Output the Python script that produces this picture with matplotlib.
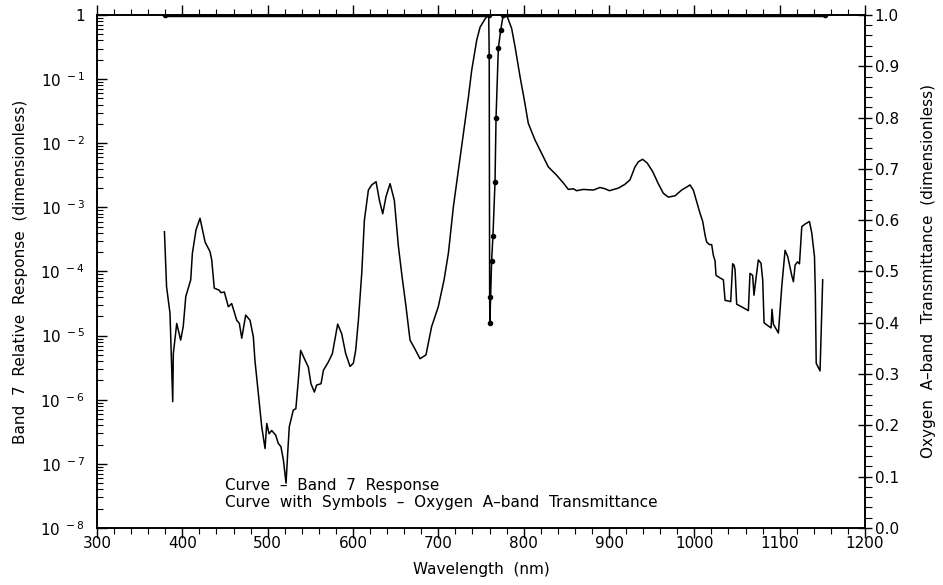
import numpy as np
import matplotlib
matplotlib.use("Agg")
import matplotlib.pyplot as plt
from matplotlib.ticker import FixedLocator, FixedFormatter, MultipleLocator

# ---- data -------------------------------------------------------------
band7_wl = [379, 381.5, 385.5, 388.7, 389.4, 393.4, 398, 401, 404, 409.8, 411.7, 416,
            420.7, 426.6, 432.4, 434.4, 437.4, 443, 445.3, 449.2, 453.9, 457.8, 463.7,
            466.8, 469.6, 474.2, 479.3, 483.2, 485, 489, 493, 496.9, 498.9, 501.6, 504.7,
            509.3, 512.4, 515.5, 518.4, 521.5, 523.4, 525.3, 530, 533, 535.9, 538.6,
            543.7, 547.6, 550.7, 554.7, 557.4, 562.5, 565.3, 571.1, 575.8, 582, 586.7,
            591.4, 596.5, 600.4, 603.1, 606.3, 610.2, 613.3, 618, 621.9, 627, 630.9,
            634.8, 638.7, 643.4, 648.4, 653.2, 657, 662.1, 666.8, 672.6, 678.5, 685.5,
            692.1, 699.9, 706.7, 711.8, 717.6, 723.5, 729.3, 735.2, 739.1, 745, 748.9,
            754.8, 758.7, 765, 772, 780, 785.9, 789.8, 795.7, 800.8, 805.4, 813.3, 821.1,
            828.9, 838.7, 846.5, 852.3, 858.2, 862, 869.9, 881.6, 889.4, 895.3, 900.4,
            910.9, 918.7, 924.6, 930.4, 934.3, 939.4, 944.8, 951.1, 957.7, 963.6, 969.5,
            977.3, 985.1, 990.2, 994.9, 998.8, 1002.7, 1006.6, 1009.8, 1012.5, 1014.4,
            1017.6, 1020.3, 1022.3, 1024.2, 1025.4, 1030.1, 1034, 1036, 1039.9, 1042.6,
            1044.9, 1046.5, 1047.7, 1049.6, 1056.6, 1063.3, 1065.2, 1068.3, 1069.9,
            1072.2, 1075, 1078.1, 1080.1, 1081.7, 1085.6, 1089.9, 1091, 1092.6, 1098.5,
            1102.4, 1106.3, 1109.5, 1114.1, 1116.1, 1118.1, 1120.8, 1123.2, 1125.9,
            1129.8, 1134.9, 1137.6, 1140.8, 1141.8, 1142.8, 1147.3, 1150.4]
band7_log10 = [-3.38, -4.24, -4.65, -6.03, -5.28, -4.81, -5.07, -4.86, -4.39, -4.13, -3.72,
               -3.35, -3.17, -3.54, -3.69, -3.82, -4.26, -4.29, -4.33, -4.32, -4.55, -4.50,
               -4.76, -4.81, -5.04, -4.68, -4.76, -5.02, -5.38, -5.90, -6.42, -6.76, -6.37,
               -6.53, -6.48, -6.55, -6.68, -6.73, -6.94, -7.30, -6.84, -6.42, -6.16, -6.14,
               -5.69, -5.23, -5.38, -5.49, -5.75, -5.88, -5.77, -5.75, -5.54, -5.41, -5.28,
               -4.82, -4.97, -5.28, -5.48, -5.43, -5.23, -4.76, -4.03, -3.20, -2.73, -2.65,
               -2.60, -2.89, -3.10, -2.83, -2.63, -2.89, -3.61, -4.03, -4.55, -5.07, -5.21,
               -5.36, -5.30, -4.86, -4.55, -4.13, -3.71, -2.99, -2.42, -1.85, -1.28, -0.86,
               -0.39, -0.19, -0.06, 0.0, 0.0, 0.0, 0.0, -0.21, -0.49, -0.96, -1.33, -1.69,
               -1.95, -2.16, -2.37, -2.50, -2.62, -2.72, -2.71, -2.74, -2.72, -2.73, -2.69,
               -2.71, -2.74, -2.70, -2.64, -2.57, -2.37, -2.29, -2.25, -2.31, -2.44, -2.63,
               -2.78, -2.84, -2.82, -2.73, -2.69, -2.65, -2.73, -2.91, -3.09, -3.22, -3.43,
               -3.54, -3.58, -3.58, -3.75, -3.83, -4.06, -4.10, -4.13, -4.45, -4.46, -4.47,
               -3.88, -3.90, -3.97, -4.51, -4.56, -4.61, -4.03, -4.06, -4.37, -4.11, -3.82,
               -3.87, -4.13, -4.80, -4.84, -4.88, -4.59, -4.82, -4.96, -4.24, -3.67, -3.77,
               -4.06, -4.16, -3.90, -3.85, -3.88, -3.30, -3.26, -3.22, -3.40, -3.77, -4.34,
               -5.43, -5.55, -4.13]

o2_wl = [380, 759.0, 759.6, 760.1, 760.4, 762.4, 764.0, 766.4, 767.6, 770.3, 773.0, 776.0, 1153]
o2_trans = [1.0, 1.0, 0.92, 0.45, 0.40, 0.52, 0.57, 0.675, 0.80, 0.935, 0.97, 1.0, 1.0]

left_tick_exps = [-8, -7, -6, -5, -4, -3, -2, -1, 0]
right_ticks = [0.0, 0.1, 0.2, 0.3, 0.4, 0.5, 0.6, 0.7, 0.8, 0.9, 1.0]
x_ticks = [300, 400, 500, 600, 700, 800, 900, 1000, 1100, 1200]

# ---- figure -----------------------------------------------------------
plt.rcParams['mathtext.default'] = 'regular'
plt.rcParams['font.family'] = ['DejaVu Sans']
fig = plt.figure(figsize=(9.43, 5.85), dpi=100)
ax = fig.add_axes([0.1029, 0.0974, 0.8144, 0.877])
ax2 = ax.twinx()

band7 = 10.0 ** np.array(band7_log10)
ax.plot(band7_wl, band7, color='black', lw=1.1)
ax.set_yscale('log')
ax.set_ylim(1e-8, 1)
ax.set_xlim(300, 1200)

o2_t = np.array(o2_trans)
ax2.plot(o2_wl, o2_t, color='black', lw=1.1, marker='o', ms=3)
flat = np.where(o2_t >= 0.999, o2_t, np.nan)
ax2.plot(o2_wl, flat, color='black', lw=3.2, solid_capstyle='butt')
ax2.set_ylim(0, 1.0)

fs = 11
# left axis ticks
ax.yaxis.set_major_locator(FixedLocator([10.0 ** e for e in left_tick_exps]))
ax.yaxis.set_major_formatter(FixedFormatter(
    [('1' if e == 0 else r'$10^{\ %d}$' % e) for e in left_tick_exps]))
ax.yaxis.set_minor_locator(matplotlib.ticker.LogLocator(base=10, subs=np.arange(2, 10), numticks=20))
ax.yaxis.set_minor_formatter(matplotlib.ticker.NullFormatter())
ax.tick_params(axis='y', which='major', direction='in', length=7, width=1, labelsize=fs, pad=9)
ax.tick_params(axis='y', which='minor', direction='in', length=4, width=0.8)

# x ticks
ax.set_xticks(x_ticks)
ax.xaxis.set_minor_locator(MultipleLocator(20))
ax.tick_params(axis='x', which='major', direction='out', length=7, width=1, labelsize=fs,
               top=True, pad=-1)
ax.tick_params(axis='x', which='minor', direction='out', length=4, width=0.8, top=True)

# right axis ticks
ax2.set_yticks(right_ticks)
ax2.set_yticklabels(['%.1f' % t for t in right_ticks])
ax2.yaxis.set_minor_locator(MultipleLocator(0.02))
ax2.tick_params(axis='y', which='major', direction='inout', length=10, width=1, labelsize=fs, pad=2)
ax2.tick_params(axis='y', which='minor', direction='out', length=5, width=0.8)

for a in (ax, ax2):
    for s in a.spines.values():
        s.set_linewidth(1.2)

ax.set_xlabel('Wavelength  (nm)', fontsize=fs, labelpad=8)
ax.set_ylabel('Band  7  Relative  Response  (dimensionless)', fontsize=fs, labelpad=9)
ax2.set_ylabel('Oxygen  A\u2013band  Transmittance  (dimensionless)', fontsize=fs, labelpad=16)

ax.text(0.1667, 0.0830, 'Curve  \u2013  Band  7  Response', transform=ax.transAxes,
        fontsize=fs, va='center', ha='left')
ax.text(0.1667, 0.0500, 'Curve  with  Symbols  \u2013  Oxygen  A\u2013band  Transmittance',
        transform=ax.transAxes, fontsize=fs, va='center', ha='left')

fig.savefig('out.png', dpi=100)
